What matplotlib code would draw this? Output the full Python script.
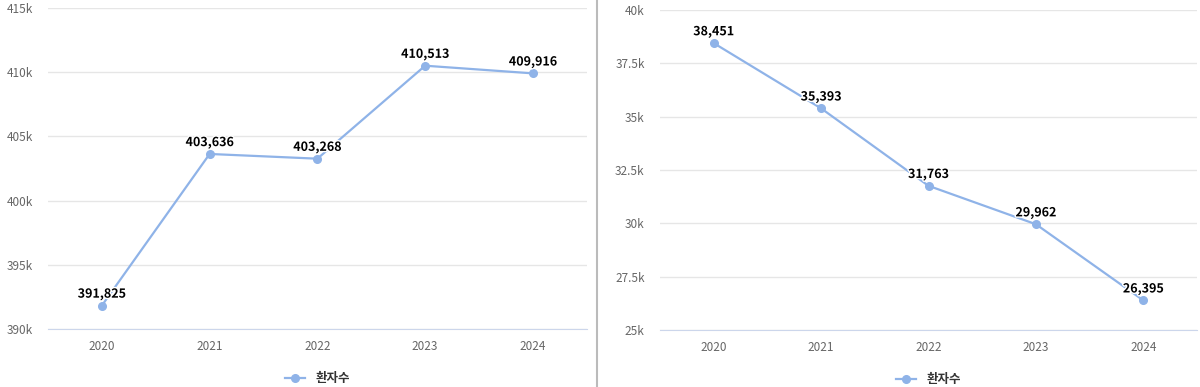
import matplotlib
matplotlib.use("Agg")
import matplotlib.pyplot as plt
import matplotlib.patheffects as pe
from matplotlib.lines import Line2D
from matplotlib.ticker import FuncFormatter

plt.rcParams['font.family'] = ['Noto Sans CJK KR', 'DejaVu Sans']

years = ['2020', '2021', '2022', '2023', '2024']
left_values = [391825, 403636, 403268, 410513, 409916]
right_values = [38451, 35393, 31763, 29962, 26395]
series_name = '환자수'

line_color = '#8fb3e8'
grid_color = '#e6e6e6'
axis_color = '#ccd6eb'
tick_color = '#666666'

fig = plt.figure(figsize=(12, 3.87), dpi=100)


def k_fmt(v, pos):
    s = f'{v / 1000:g}'
    return s + 'k'


def draw_panel(ax, values, ylim, step):
    x = list(range(len(years)))
    ax.plot(x, values, color=line_color, linewidth=1.6, marker='o', markersize=5.5,
            label=series_name, zorder=3)
    for xi, v in zip(x, values):
        ax.annotate(f'{v:,}', (xi, v), xytext=(0, 3.5), textcoords='offset points',
                    ha='center', va='bottom', fontsize=9, fontweight='bold',
                    color='black', zorder=4,
                    path_effects=[pe.withStroke(linewidth=2, foreground='white')])
    ax.set_xlim(-0.5, len(years) - 0.5)
    ax.set_ylim(*ylim)
    ticks = []
    t = ylim[0]
    while t <= ylim[1] + 1e-9:
        ticks.append(t)
        t += step
    ax.set_yticks(ticks)
    ax.yaxis.set_major_formatter(FuncFormatter(k_fmt))
    ax.set_xticks(x)
    ax.set_xticklabels(years)
    ax.grid(axis='y', color=grid_color, linewidth=1)
    ax.set_axisbelow(True)
    for side in ['top', 'right', 'left']:
        ax.spines[side].set_visible(False)
    ax.spines['bottom'].set_color(axis_color)
    ax.tick_params(axis='both', length=0, colors=tick_color, labelsize=8.5)
    ax.tick_params(axis='y', pad=11)
    ax.tick_params(axis='x', pad=8)
    ax.legend(loc='upper center', bbox_to_anchor=(0.5, -0.1), frameon=False,
              handlelength=1.6, labelcolor='#333333',
              prop={'weight': 'bold', 'size': 9})


ax1 = fig.add_axes([0.04, 0.150, 0.449, 0.829])
draw_panel(ax1, left_values, (390000, 415000), 5000)

ax2 = fig.add_axes([0.55, 0.147, 0.4475, 0.827])
draw_panel(ax2, right_values, (25000, 40000), 2500)

fig.add_artist(Line2D([597 / 1200, 597 / 1200], [0, 1], color='#bbbbbb',
                      linewidth=1.5, transform=fig.transFigure))

fig.savefig('out.png', dpi=100)
